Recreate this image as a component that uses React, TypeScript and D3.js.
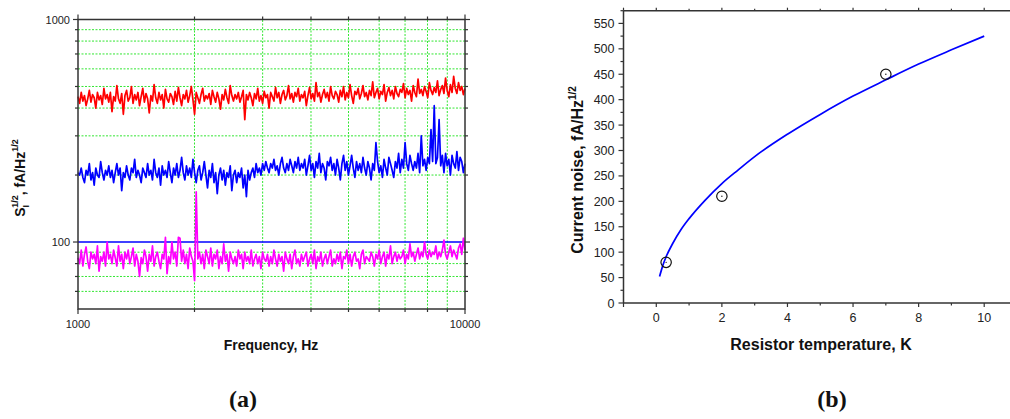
import React from "react";
import * as d3 from "d3";

// ---------- Panel (a): noise spectra, log-spaced frequency points 1000..10000 Hz ----------
const RED = [
  450,420,470,430,455,410,440,480,425,460,445,400,470,435,455,415,490,440,460,425,
  470,385,450,430,505,440,420,465,375,455,480,430,445,500,420,460,435,470,410,450,
  490,425,465,440,380,455,430,510,445,420,470,435,460,400,485,440,425,465,450,415,
  475,430,495,445,410,460,440,480,425,455,500,435,375,470,445,420,460,490,430,455,
  440,465,415,480,450,425,470,440,395,460,435,485,445,420,505,455,430,460,440,470,
  425,450,480,355,460,435,470,445,410,465,440,490,430,455,420,475,445,460,400,470,
  450,430,495,445,470,420,460,480,435,455,505,440,465,425,470,450,490,430,460,445,
  475,410,455,495,440,465,430,520,450,470,425,460,485,445,470,430,500,455,440,475,
  460,425,480,450,500,435,470,445,510,455,420,475,460,490,440,465,505,450,470,435,
  480,455,525,445,470,490,440,475,460,510,430,470,495,455,480,440,500,465,450,485,
  470,515,445,490,460,480,430,505,470,450,540,465,485,455,500,475,445,520,480,460,
  495,470,530,455,485,505,465,545,480,450,510,470,555,490,465,520,480,500,460,490,
];

const BLUE = [
  205,200,215,195,185,210,200,225,190,205,180,215,200,195,230,205,190,210,200,220,
  195,210,185,205,225,200,215,170,205,195,220,200,190,215,205,235,195,210,200,185,
  215,205,195,225,200,210,190,235,205,195,215,180,220,200,210,195,230,205,185,215,
  200,225,195,210,240,205,190,220,200,215,195,235,205,185,210,220,190,205,230,200,
  175,210,195,225,185,205,165,200,215,190,210,180,205,195,220,170,200,210,185,205,
  195,215,175,200,160,210,190,205,215,195,225,205,215,200,225,210,230,215,205,225,
  215,235,210,220,200,225,240,215,205,225,210,235,220,205,230,215,240,210,225,215,
  235,200,220,245,210,225,195,230,215,250,205,225,215,190,230,220,240,210,225,200,
  235,215,190,225,245,210,230,200,220,245,215,195,230,210,225,205,240,215,200,230,
  215,190,225,210,280,230,205,220,195,235,215,200,240,225,210,195,230,215,250,205,
  235,215,280,225,210,245,225,210,230,215,250,205,300,220,235,210,240,225,320,230,
  410,225,240,355,220,245,205,250,220,235,200,245,225,215,255,210,240,230,205,225,
];

const MAGENTA = [
  85,80,92,78,88,95,82,76,90,84,88,80,96,74,86,82,90,78,100,84,
  88,80,92,85,78,96,82,88,76,90,84,92,80,86,94,78,88,82,70,85,
  80,92,86,74,88,82,96,78,86,90,82,76,88,84,105,72,86,80,100,84,
  90,78,105,104,82,92,80,88,76,94,86,82,67,168,84,90,80,88,76,92,
  86,80,94,78,88,84,92,76,86,80,98,82,88,74,90,84,80,86,78,92,
  84,88,76,90,82,86,80,92,78,84,88,80,86,76,90,84,82,88,78,86,
  80,92,84,78,88,82,86,74,90,84,80,88,76,86,92,80,84,78,88,82,
  86,90,78,84,88,80,92,76,86,82,90,78,84,88,80,86,92,78,84,80,
  88,82,90,76,86,84,92,80,88,78,86,90,82,84,76,88,92,80,86,84,
  82,90,86,78,88,84,92,80,86,90,78,88,84,96,80,86,90,82,88,84,
  86,92,80,88,84,98,86,90,82,88,94,84,90,86,100,88,84,92,86,90,
  88,96,84,90,86,92,102,88,84,90,96,86,92,88,84,94,98,88,104,92,
];

const A_X_DOMAIN = [1000, 10000];
const A_Y_DOMAIN = [50, 1000];
const A_X_LABELS = [1000, 10000];
const A_Y_LABELS = [100, 1000];
const A_X_MINOR = [2000, 3000, 4000, 5000, 6000, 7000, 8000, 9000];
const A_Y_MINOR = [60, 70, 80, 90, 200, 300, 400, 500, 600, 700, 800, 900];

// ---------- Panel (b): current noise vs resistor temperature ----------
const TEMP = [0.3, 2, 7];
const NOISE = [80, 210, 450];
const FIT_T = [0.1, 0.2, 0.3, 0.5, 0.75, 1, 1.5, 2, 2.5, 3, 4, 5, 6, 7, 8, 9, 10];
const FIT_V = [52, 74, 91, 117, 144, 166, 203, 235, 262, 288, 332, 371, 407, 439, 470, 498, 525];
const B_X_TICKS = [0, 2, 4, 6, 8, 10];
const B_Y_TICKS = [0, 50, 100, 150, 200, 250, 300, 350, 400, 450, 500, 550];

const SANS = "Arial, 'Liberation Sans', sans-serif";
const AXIS = "#333";
const TXT = "#222";

function PanelA() {
  const N = RED.length;
  const freq = d3.range(N).map((i) => A_X_DOMAIN[0] * Math.pow(A_X_DOMAIN[1] / A_X_DOMAIN[0], i / (N - 1)));
  const x = d3.scaleLog().domain(A_X_DOMAIN).range([78, 465]);
  const y = d3.scaleLog().domain(A_Y_DOMAIN).range([309, 19.5]);
  const line = (arr: number[]) =>
    d3.line<number>().x((_, i) => x(freq[i])).y((d) => y(d))(arr) || "";
  const [x0, x1] = x.range();
  const [y0, y1] = y.range();
  const green = "#33e633";
  return (
    <g>
      {/* grid */}
      {A_Y_MINOR.map((v) => (
        <line key={"gy" + v} x1={x0} x2={x1} y1={y(v)} y2={y(v)} stroke={green} strokeWidth={1} strokeDasharray="2,1.5" />
      ))}
      {A_X_MINOR.map((v) => (
        <line key={"gx" + v} x1={x(v)} x2={x(v)} y1={y0} y2={y1} stroke={green} strokeWidth={1} strokeDasharray="2,1.5" />
      ))}
      <line x1={x0} x2={x1} y1={y(100)} y2={y(100)} stroke="#0000ff" strokeWidth={1.5} />
      {/* data */}
      <path d={line(MAGENTA)} fill="none" stroke="#ff00ff" strokeWidth={1.7} strokeLinejoin="round" />
      <path d={line(BLUE)} fill="none" stroke="#0000ff" strokeWidth={1.7} strokeLinejoin="round" />
      <path d={line(RED)} fill="none" stroke="#ff0000" strokeWidth={1.7} strokeLinejoin="round" />
      {/* frame */}
      <rect x={x0} y={y1} width={x1 - x0} height={y0 - y1} fill="none" stroke={AXIS} strokeWidth={1.5} />
      {/* ticks */}
      {A_Y_MINOR.map((v) => (
        <g key={"ty" + v}>
          <line x1={x0 - 3} x2={x0} y1={y(v)} y2={y(v)} stroke={AXIS} strokeWidth={1.2} />
          <line x1={x1} x2={x1 + 3} y1={y(v)} y2={y(v)} stroke={AXIS} strokeWidth={1.2} />
        </g>
      ))}
      {A_Y_LABELS.map((v) => (
        <g key={"tyl" + v}>
          <line x1={x0 - 5} x2={x0} y1={y(v)} y2={y(v)} stroke={AXIS} strokeWidth={1.2} />
          <line x1={x1} x2={x1 + 5} y1={y(v)} y2={y(v)} stroke={AXIS} strokeWidth={1.2} />
          <text x={x0 - 8} y={y(v) + 4} textAnchor="end" fontSize={11} fontFamily={SANS} fill={TXT}>{v}</text>
        </g>
      ))}
      {A_X_MINOR.map((v) => (
        <g key={"tx" + v}>
          <line x1={x(v)} x2={x(v)} y1={y0} y2={y0 + 3} stroke={AXIS} strokeWidth={1.2} />
          <line x1={x(v)} x2={x(v)} y1={y1 - 3} y2={y1} stroke={AXIS} strokeWidth={1.2} />
        </g>
      ))}
      {A_X_LABELS.map((v) => (
        <g key={"txl" + v}>
          <line x1={x(v)} x2={x(v)} y1={y0} y2={y0 + 5} stroke={AXIS} strokeWidth={1.2} />
          <line x1={x(v)} x2={x(v)} y1={y1 - 5} y2={y1} stroke={AXIS} strokeWidth={1.2} />
          <text x={x(v)} y={y0 + 19} textAnchor="middle" fontSize={11} fontFamily={SANS} fill={TXT}>{v}</text>
        </g>
      ))}
      {/* axis titles */}
      <text x={271} y={350} textAnchor="middle" fontSize={14} fontWeight="bold" fontFamily={SANS} fill="#111">Frequency, Hz</text>
      <text transform="translate(25,178) rotate(-90)" textAnchor="middle" fontSize={14} fontWeight="bold" fontFamily={SANS} fill="#111">
        S<tspan fontSize={9} dy={4}>I</tspan>
        <tspan fontSize={9} dy={-11} dx={-3}>1/2</tspan>
        <tspan dy={7}>, fA/Hz</tspan>
        <tspan fontSize={9} dy={-7}>1/2</tspan>
      </text>
    </g>
  );
}

function PanelB() {
  const x = d3.scaleLinear().domain([-1, 11]).range([623.5, 1017]);
  const y = d3.scaleLinear().domain([0, 575]).range([303, 10.7]);
  const [x0, x1] = x.range();
  const [y0, y1] = y.range();
  const fit = d3
    .line<number>()
    .x((d) => x(d))
    .y((_, i) => y(FIT_V[i]))
    .curve(d3.curveMonotoneX)(FIT_T) || "";
  const xMinor = d3.range(-1, 12, 1);
  const yMinor = d3.range(0, 576, 25);
  return (
    <g>
      <path d={fit} fill="none" stroke="#0000ff" strokeWidth={1.7} />
      {TEMP.map((t, i) => (
        <g key={"p" + i}>
          <circle cx={x(t)} cy={y(NOISE[i])} r={5.2} fill="none" stroke="#111" strokeWidth={1.2} />
          <circle cx={x(t)} cy={y(NOISE[i])} r={0.7} fill="#111" />
        </g>
      ))}
      {/* axes */}
      <line x1={x0} x2={x0} y1={y0} y2={y1} stroke={AXIS} strokeWidth={1.5} />
      <line x1={x0} x2={x1} y1={y0} y2={y0} stroke={AXIS} strokeWidth={1.5} />
      <line x1={x0} x2={x1} y1={y1} y2={y1} stroke={AXIS} strokeWidth={1.5} />
      {xMinor.map((v) => {
        const major = v % 2 === 0 || v === -1;
        return (
          <g key={"bx" + v}>
            <line x1={x(v)} x2={x(v)} y1={y0} y2={y0 + (major ? 4 : 2.5)} stroke={AXIS} strokeWidth={1.2} />
            <line x1={x(v)} x2={x(v)} y1={y1 - (major ? 3 : 2)} y2={y1} stroke={AXIS} strokeWidth={1.2} />
          </g>
        );
      })}
      {B_X_TICKS.map((v) => (
        <text key={"bxl" + v} x={x(v)} y={y0 + 19} textAnchor="middle" fontSize={12.5} fontFamily={SANS} fill={TXT}>{v}</text>
      ))}
      {yMinor.map((v) => (
        <line key={"by" + v} x1={x0 - (v % 50 === 0 ? 5 : 3)} x2={x0} y1={y(v)} y2={y(v)} stroke={AXIS} strokeWidth={1.2} />
      ))}
      {B_Y_TICKS.map((v) => (
        <text key={"byl" + v} x={x0 - 9} y={y(v) + 4.5} textAnchor="end" fontSize={12.5} fontFamily={SANS} fill={TXT}>{v}</text>
      ))}
      <text x={821} y={350} textAnchor="middle" fontSize={16} fontWeight="bold" fontFamily={SANS} fill="#111">Resistor temperature, K</text>
      <text transform="translate(583,170) rotate(-90)" textAnchor="middle" fontSize={16} fontWeight="bold" fontFamily={SANS} fill="#111">
        Current noise, fA/Hz<tspan fontSize={10} dy={-7}>1/2</tspan>
      </text>
    </g>
  );
}

export default function App() {
  return (
    <svg width={1010} height={419} style={{ position: "absolute", left: 0, top: 0, background: "#fff" }}>
      <rect x={0} y={0} width={1010} height={419} fill="#fff" />
      <PanelA />
      <PanelB />
      <text x={243} y={407} textAnchor="middle" fontSize={24} fontWeight="bold" fontFamily="'Liberation Serif', 'Times New Roman', serif" fill="#111">(a)</text>
      <text x={832} y={407} textAnchor="middle" fontSize={24} fontWeight="bold" fontFamily="'Liberation Serif', 'Times New Roman', serif" fill="#111">(b)</text>
    </svg>
  );
}
